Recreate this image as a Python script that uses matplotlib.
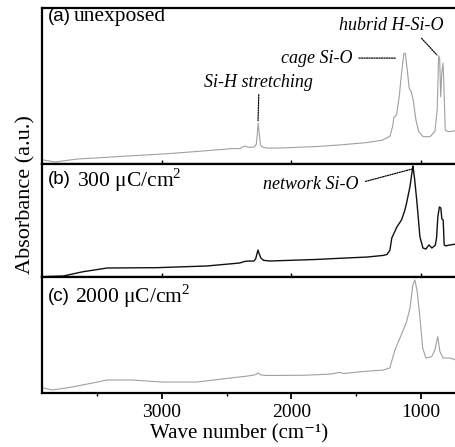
import matplotlib
matplotlib.use('Agg')
import matplotlib.pyplot as plt
from matplotlib.ticker import MultipleLocator

plt.rcParams['font.family'] = ['Liberation Serif', 'DejaVu Serif']
plt.rcParams['mathtext.fontset'] = 'custom'
plt.rcParams['mathtext.rm'] = 'Liberation Serif'

# wave number (cm-1) / absorbance (a.u.)
wn_a = [3915, 3823, 3650, 3500, 3250, 2990, 2700, 2450, 2396, 2360, 2330, 2285, 2270, 2262, 2255,
        2248, 2238, 2225, 2190, 2090, 1800, 1625, 1420, 1300, 1240, 1219, 1209, 1188, 1168, 1150,
        1132, 1121, 1106, 1091, 1075, 1060, 1039, 1018, 983, 931, 893, 875, 864, 856, 848, 840,
        830, 823, 813, 790, 731]
abs_a = [2.9, 1.6, 3.5, 4.2, 5.5, 6.7, 8.5, 10.2, 10.2, 11.8, 11.0, 11.2, 13.0, 20.0, 26.5,
         20.0, 12.5, 11.2, 10.5, 10.5, 11.5, 12.5, 14.0, 15.5, 18.0, 24.2, 30.2, 31.6, 43.3, 58.3,
         71.0, 71.0, 60.4, 48.7, 46.5, 41.2, 28.4, 21.0, 17.8, 17.8, 21.0, 34.8, 69.5, 67.9, 43.3, 58.3,
         64.7, 49.7, 22.0, 21.0, 21.6]

wn_b = [3915, 3760, 3607, 3420, 3036, 2650, 2400, 2360, 2320, 2290, 2275, 2265, 2257, 2248, 2235,
        2215, 2165, 1800, 1625, 1417, 1294, 1263, 1240, 1225, 1186, 1150, 1124, 1111, 1085, 1067,
        1063, 1050, 1033, 1008, 985, 962, 939, 916, 890, 880, 870, 858, 847, 839, 829, 821, 808,
        777, 731]
abs_b = [0.7, 1.3, 5.1, 8.4, 8.7, 10.2, 12.8, 14.2, 14.6, 14.5, 16.5, 21.0, 24.3, 21.0, 17.3,
         15.2, 14.6, 16.0, 17.0, 18.1, 19.5, 20.3, 24.0, 35.0, 44.7, 51.0, 59.7, 66.0, 80.4, 95.0,
         98.7, 88.0, 68.6, 35.8, 26.1, 25.2, 28.8, 26.1, 28.5, 35.0, 53.8, 62.4, 61.5, 51.8, 50.9, 28.8, 28.0,
         28.8, 29.6]

wn_c = [3915, 3840, 3690, 3500, 3420, 3240, 2990, 2730, 2470, 2340, 2290, 2270, 2257, 2240, 2230,
        2188, 1900, 1700, 1625, 1600, 1420, 1294, 1263, 1240, 1227, 1201, 1162, 1111, 1085, 1063,
        1047, 1029, 1008, 987, 962, 918, 893, 871, 854, 829, 777, 731]
abs_c = [3.9, 2.2, 4.8, 9.0, 10.9, 10.9, 9.1, 9.1, 12.6, 14.3, 15.2, 15.8, 17.0, 15.5, 15.2,
         14.8, 15.0, 16.0, 17.5, 16.5, 18.5, 19.5, 20.5, 21.3, 26.8, 37.0, 47.4, 61.6, 73.5, 93.5,
         97.8, 87.7, 64.8, 38.7, 30.0, 31.1, 37.0, 48.5, 35.5, 30.0, 30.0, 28.3]

spectra = [(wn_a, abs_a), (wn_b, abs_b), (wn_c, abs_c)]
tags = ['(a)', '(b)', '(c)']
doses = ['unexposed', r'300 μC/cm$^{2}$', r'2000 μC/cm$^{2}$']
colors = ['#a0a0a0', '#111111', '#a0a0a0']
lws = [0.8, 1.0, 0.8]

fig = plt.figure(figsize=(4.56, 4.47), dpi=100)
boxes = [[0.0921, 0.6320, 0.9079, 0.3501],
         [0.0921, 0.3792, 0.9079, 0.2528],
         [0.0921, 0.1219, 0.9079, 0.2573]]
tag_y = [0.945, 0.863, 0.839]
dose_x = [0.077, 0.085, 0.080]

axes = []
for i in range(3):
    ax = fig.add_axes(boxes[i])
    x, y = spectra[i]
    ax.plot(x, y, color=colors[i], lw=lws[i])
    ax.set_xlim(3923, 730)
    ax.set_ylim(0, 100)
    ax.set_yticks([])
    ax.spines['right'].set_visible(False)
    for s in ['left', 'top', 'bottom']:
        ax.spines[s].set_linewidth(1.6)
    ax.xaxis.set_major_locator(MultipleLocator(1000))
    ax.xaxis.set_minor_locator(MultipleLocator(500))
    ax.text(0.014, tag_y[i], tags[i], transform=ax.transAxes, fontsize=13.5,
            family=['Liberation Sans'], va='center', ha='left')
    ax.text(dose_x[i], tag_y[i], doses[i], transform=ax.transAxes, fontsize=15.5,
            va='center', ha='left')
    if i < 2:
        ax.tick_params(axis='x', which='both', direction='in', labelbottom=False)
        ax.tick_params(axis='x', which='major', length=3, width=1)
        ax.tick_params(axis='x', which='minor', length=0)
    else:
        ax.tick_params(axis='x', which='major', direction='out', length=4, width=1.3,
                       labelsize=14, pad=4)
        ax.tick_params(axis='x', which='minor', direction='out', length=2.5, width=1)
    axes.append(ax)

dots = dict(arrowstyle='-', linestyle=(0, (1, 1)), lw=0.9, color='k')

axes[0].annotate('Si-H stretching', xy=(2257, 28), xytext=(2250, 52.7), ha='center',
                 va='center', style='italic', fontsize=13,
                 arrowprops=dict(dots, shrinkA=1, shrinkB=0, relpos=(0.5, 0)))
axes[0].annotate('cage Si-O', xy=(1190, 68), xytext=(1532, 68), ha='right', va='center',
                 style='italic', fontsize=13,
                 arrowprops=dict(dots, shrinkA=3, shrinkB=0, relpos=(1, 0.5)))
axes[0].annotate('hubrid H-Si-O', xy=(877, 70), xytext=(1231, 89.1), ha='center', va='center',
                 style='italic', fontsize=13,
                 arrowprops=dict(dots, shrinkA=2, shrinkB=0, relpos=(0.75, 0)))
axes[1].annotate('network Si-O', xy=(1069, 96), xytext=(1849, 81.9), ha='center', va='center',
                 style='italic', fontsize=13,
                 arrowprops=dict(dots, shrinkA=3, shrinkB=0, relpos=(1, 0.6)))

fig.text(0.057, 0.565, 'Absorbance (a.u.)', rotation=90, ha='center', va='center', fontsize=16)
fig.text(0.525, 0.03, 'Wave number (cm⁻¹)', ha='center', va='center', fontsize=15)

fig.savefig('out.png', dpi=100)
